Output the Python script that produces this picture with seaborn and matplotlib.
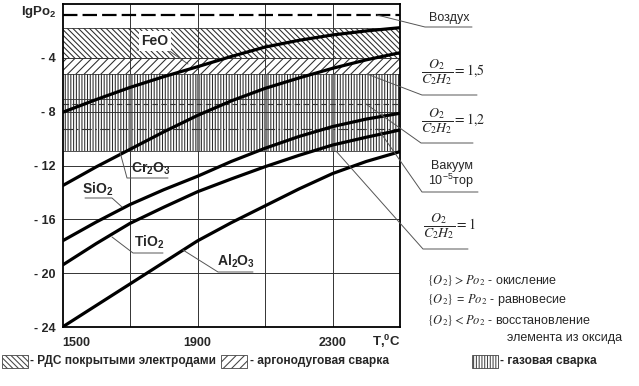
import numpy as np
import pandas as pd
import matplotlib
matplotlib.use("Agg")
import matplotlib.pyplot as plt
import seaborn as sns
from matplotlib.lines import Line2D
from matplotlib.patches import Rectangle
from matplotlib import font_manager as fm

# ---------------- data ----------------
temps = [1500, 1600, 1700, 1800, 1900, 2000, 2100, 2200, 2300, 2400, 2500]
feo   = [-8.05, -7.1, -6.2, -5.4, -4.66, -3.9, -3.2, -2.7, -2.3, -2.0, -1.76]
cr2o3 = [-13.5, -12.1, -10.8, -9.5, -8.28, -7.2, -6.27, -5.5, -4.78, -4.15, -3.62]
sio2  = [-17.6, -16.2, -14.9, -13.8, -12.8, -11.7, -10.72, -9.85, -9.11, -8.55, -8.12]
tio2  = [-19.4, -17.8, -16.3, -15.1, -13.95, -13.0, -12.09, -11.25, -10.48, -9.9, -9.36]
al2o3 = [-24.0, -22.4, -20.8, -19.2, -17.6, -16.25, -15.0, -13.75, -12.6, -11.7, -10.97]
oxides = ["FeO", "Cr2O3", "SiO2", "TiO2", "Al2O3"]

band_names  = ["- РДС покрытыми электродами", "- аргонодуговая сварка", "- газовая сварка"]
band_top    = [-1.76, -4.0, -5.2]
band_bottom = [-4.0, -5.2, -10.9]

air_level = -0.8
ratio_12_level = -7.43
vacuum_level = -9.31
extra_level = -7.08

x_ticks = [1500, 1900, 2300]
x_tick_labels = ["1500", "1900", "2300"]
x_grid = [1700, 1900, 2100, 2300]
y_ticks = [-4, -8, -12, -16, -20, -24]
y_tick_labels = ["- 4", "- 8", "- 12", "- 16", "- 20", "- 24"]

# ---------------- style ----------------
sns.set_style("white")
names = {f.name for f in fm.fontManager.ttflist}
base = "Liberation Sans" if "Liberation Sans" in names else "DejaVu Sans"
plt.rcParams['font.family'] = [base, 'DejaVu Sans']
plt.rcParams['mathtext.fontset'] = 'custom'
plt.rcParams['mathtext.rm'] = base
plt.rcParams['mathtext.it'] = base + ':italic'
plt.rcParams['mathtext.bf'] = base + ':bold'
plt.rcParams['hatch.linewidth'] = 0.75

W, H = 639, 386
fig = plt.figure(figsize=(W / 100, H / 100), dpi=100)
fig.patch.set_facecolor("white")
ax = fig.add_axes([62.5 / W, 1 - 327 / H, 337.5 / W, 323 / H])

def fx(px):
    return px / W

def fy(py):
    return 1 - py / H

ax.set_xlim(1500, 2500)
ax.set_ylim(-24, 0)

# hatched bands
hatches = ['\\\\\\\\\\\\', '////', '||||||']
for top, bot, h in zip(band_top, band_bottom, hatches):
    ax.fill_between([1500, 2500], top, bot, facecolor='white', edgecolor='#2a2a2a',
                    hatch=h, linewidth=0, zorder=1)

# grid
ax.vlines(x_grid, -24, 0, colors='#333333', lw=0.7, zorder=2)
ax.vlines(x_grid, band_bottom[2], band_top[2], colors='#7a7a7a', lw=2.4, zorder=2)
ax.hlines([-4, -8, -12, -16, -20], 1500, 2500, colors='#333333', lw=0.7, zorder=2)
ax.hlines([band_top[0], band_top[2], band_bottom[2], extra_level], 1500, 2500,
          colors='#333333', lw=0.6, zorder=2)
ax.axhline(ratio_12_level, color='#333333', lw=0.8, ls=(0, (5, 3)), zorder=2)
ax.axhline(vacuum_level, color='#333333', lw=0.8, ls=(0, (9, 3, 1.5, 3)), zorder=2)
ax.axhline(air_level, color='black', lw=1.6, ls=(0, (6.5, 2.3)), zorder=3)

# curves
df = pd.DataFrame({
    "T": temps * 5,
    "lgPo2": feo + cr2o3 + sio2 + tio2 + al2o3,
    "oxide": [o for o in oxides for _ in temps],
})
sns.lineplot(data=df, x="T", y="lgPo2", hue="oxide", palette={o: "black" for o in oxides},
             legend=False, lw=2.3, ax=ax, zorder=4)
ax.set_xlabel("")
ax.set_ylabel("")

for s in ax.spines.values():
    s.set_color("black")
    s.set_linewidth(1.3)
    s.set_zorder(5)

ax.set_xticks(x_ticks)
ax.set_xticklabels(x_tick_labels, fontweight='bold', fontsize=9)
ax.get_xticklabels()[0].set_horizontalalignment('left')
ax.set_yticks(y_ticks)
ax.set_yticklabels(y_tick_labels, fontweight='bold', fontsize=9)
ax.tick_params(axis='both', length=0)
ax.tick_params(axis='x', pad=7)
ax.tick_params(axis='y', pad=5)

# axis titles
fig.text(fx(57), fy(12), r"lgPo$_\mathbf{2}$", ha='right', va='center', fontweight='bold', fontsize=9.5)
fig.text(fx(386), fy(341), r"T,$^\mathbf{0}$C", ha='center', va='center', fontweight='bold', fontsize=9.5)

# helper for leader lines in pixel coords
def leader(pts, color='#555555', lw=0.7):
    xs = [fx(p[0]) for p in pts]
    ys = [fy(p[1]) for p in pts]
    fig.add_artist(Line2D(xs, ys, color=color, lw=lw, transform=fig.transFigure, zorder=6))

# oxide labels
fig.text(fx(155), fy(41), "FeO", ha='center', va='center', fontweight='bold', fontsize=10,
         bbox=dict(facecolor='white', edgecolor='none', pad=2), zorder=6)
leader([(137, 50), (168, 50), (188, 64)])
fig.text(fx(151), fy(169), r"Cr$_\mathbf{2}$O$_\mathbf{3}$", ha='center', va='center', fontweight='bold', fontsize=10)
leader([(168, 178), (127, 178), (120, 152)])
fig.text(fx(98), fy(189), r"SiO$_\mathbf{2}$", ha='center', va='center', fontweight='bold', fontsize=10)
leader([(85, 198), (112, 198), (122, 207)])
fig.text(fx(149), fy(242), r"TiO$_\mathbf{2}$", ha='center', va='center', fontweight='bold', fontsize=10)
leader([(163, 253), (133, 253), (112, 237)])
fig.text(fx(236), fy(261), r"Al$_\mathbf{2}$O$_\mathbf{3}$", ha='center', va='center', fontweight='bold', fontsize=10)
leader([(253, 272), (218, 272), (183, 250)])

# right side annotations
fig.text(fx(449), fy(18), "Воздух", ha='center', va='center', fontsize=9)
leader([(377, 15), (425, 27), (472, 27)])

fig.text(fx(421), fy(72), r"$\dfrac{O_2}{C_2H_2} = 1{,}5$", ha='left', va='center', fontsize=10,
         math_fontfamily='stix')
leader([(367, 74), (422, 95), (477, 95)])
fig.text(fx(421), fy(121), r"$\dfrac{O_2}{C_2H_2} = 1{,}2$", ha='left', va='center', fontsize=10,
         math_fontfamily='stix')
leader([(366, 104), (421, 143), (473, 143)])
fig.text(fx(452), fy(166), "Вакуум", ha='center', va='center', fontsize=9)
fig.text(fx(451), fy(181), r"10$^{-5}$тор", ha='center', va='center', fontsize=9)
leader([(378, 129), (422, 192), (478, 192)])
fig.text(fx(423), fy(226), r"$\dfrac{O_2}{C_2H_2} = 1$", ha='left', va='center', fontsize=10,
         math_fontfamily='stix')
leader([(336, 151), (423, 249), (468, 249)])

# explanation block
fig.text(fx(427), fy(280), r"$\{O_2\} > Po_2$ - окисление", ha='left', va='center', fontsize=9,
         math_fontfamily='stix')
fig.text(fx(427), fy(300), r"$\{O_2\}$ = $Po_2$ - равновесие", ha='left', va='center', fontsize=9,
         math_fontfamily='stix')
fig.text(fx(427), fy(321), r"$\{O_2\} < Po_2$ - восстановление", ha='left', va='center', fontsize=9,
         math_fontfamily='stix')
fig.text(fx(507), fy(338), "элемента из оксида", ha='left', va='center', fontsize=9)

# bottom legend
box_x = [2, 221, 472]
text_x = [30, 250, 500]
for bx, tx, h, name in zip(box_x, text_x, hatches, band_names):
    fig.add_artist(Rectangle((fx(bx), fy(368)), 26 / W, 13 / H, transform=fig.transFigure,
                             facecolor='white', edgecolor='#444444', hatch=h, lw=0.6))
    fig.text(fx(tx), fy(361), name, ha='left', va='center', fontweight='bold', fontsize=8.6)

fig.savefig("out.png", dpi=100)
